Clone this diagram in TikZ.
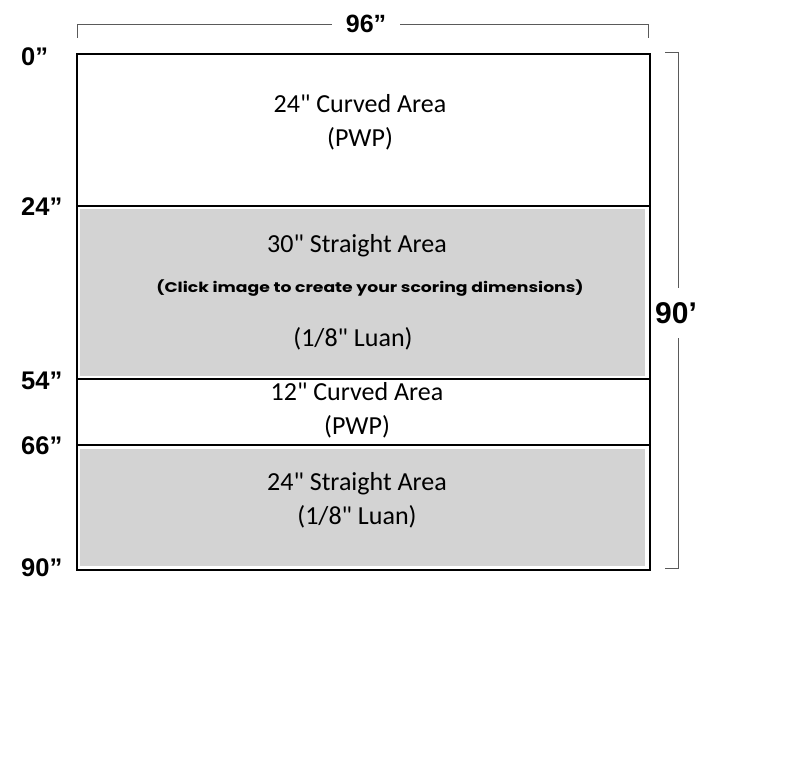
\documentclass[tikz,border=0pt]{standalone}
\usepackage{fontspec}
\setmainfont{Carlito}[Ligatures=TeXOff]
\newfontfamily\dimfont{Liberation Sans}
\newfontfamily\notefont{Poppins}[FakeStretch=1.23]
\usepackage{xcolor}
\usetikzlibrary{positioning}

\definecolor{luan}{RGB}{211,211,211}
\definecolor{dimgray}{RGB}{90,90,90}

\tikzset{
    panel/.style={draw=black, line width=1.2pt},
    dimline/.style={draw=dimgray, line width=0.9pt},
    dimtext/.style={font=\dimfont\bfseries\fontsize{25}{28}\selectfont, inner sep=0pt},
    edgelabel/.style={font=\dimfont\bfseries\fontsize{25.5}{28}\selectfont, inner sep=0pt, anchor=west},
    areatext/.style={font=\fontsize{26}{34}\selectfont, align=center, inner sep=0pt},
    notetext/.style={font=\notefont\bfseries\fontsize{14}{16}\selectfont, inner sep=0pt}
}

\begin{document}
\begin{tikzpicture}[x=1pt, y=-1pt]
        \useasboundingbox (0,0) rectangle (792,760);

        % grey luan panels
        \fill[luan] (80,209) rectangle (645,376);
        \fill[luan] (80,449) rectangle (645,566);

        % outline and dividers
        \draw[panel] (77,54) rectangle (650,570);
        \foreach \y in {206,379,445}
            \draw[panel] (77,\y) -- (650,\y);

        % area texts
        \node[areatext] (curvedA) at (360,122) {24" Curved Area\\(PWP)};
        \node[areatext] (straightA) at (357,246) {30" Straight Area};
        \node[notetext] (click) at (370,288) {(Click image to create your scoring dimensions)};
        \node[areatext] (luanA) at (353,339) {(1/8" Luan)};
        \node[areatext] (curvedB) at (357,410) {12" Curved Area\\(PWP)};
        \node[areatext] (straightB) at (357,500) {24" Straight Area\\(1/8" Luan)};

        % left marks
        \foreach \y/\t in {57/0,207/24,381/54,446/66,568/90}
            \node[edgelabel] (mark\t) at (21,\y) {\t”};

        % width dimension
        \node[dimtext, inner xsep=14pt] (width) at (366,24) {96”};
        \coordinate (wl) at (77,38);
        \coordinate (wr) at (648,38);
        \draw[dimline] (wl) |- (width.west);
        \draw[dimline] (wr) |- (width.east);

        % height dimension
        \node[dimtext, font=\dimfont\bfseries\fontsize{30}{32}\selectfont, inner ysep=14pt, anchor=west] (height) at (655,313) {90’};
        \coordinate (ht) at (665,52);
        \coordinate (hb) at (665,568);
        \draw[dimline] (ht) -- ++(13,0) coordinate (htc) -- (htc |- height.north);
        \draw[dimline] (hb) -- ++(13,0) coordinate (hbc) -- (hbc |- height.south);
    \end{tikzpicture}
\end{document}
